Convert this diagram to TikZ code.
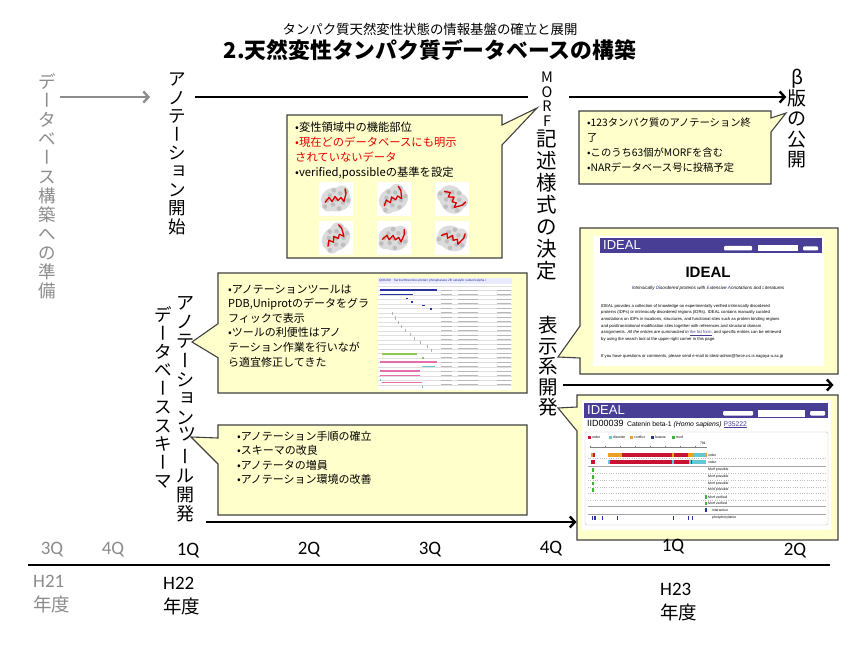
\documentclass[tikz,border=0pt]{standalone}
\usepackage{fontspec}
\setmainfont{Noto Sans CJK JP}
\newfontfamily\qfont{Carlito}
\newfontfamily\webfont{Liberation Sans}
\usepackage{xcolor}
\usepackage{tikz}
\usetikzlibrary{positioning}
\usetikzlibrary{arrows.meta}
\usetikzlibrary{shapes.callouts}

\definecolor{notefill}{RGB}{255,255,204}
\definecolor{noteline}{RGB}{64,64,64}
\definecolor{prepgray}{RGB}{140,140,140}
\definecolor{annored}{RGB}{230,0,0}
\definecolor{idealpurple}{RGB}{72,62,150}
\definecolor{orderred}{RGB}{200,20,50}
\definecolor{disordercyan}{RGB}{100,200,210}
\definecolor{conflictorange}{RGB}{235,160,40}
\definecolor{featureblue}{RGB}{40,50,160}
\definecolor{morfgreen}{RGB}{60,180,60}
\definecolor{toolpink}{RGB}{230,110,170}
\definecolor{toolgreen}{RGB}{140,200,80}

% long vowel mark and small kana in vertical writing
\newcommand{\vbar}{\rotatebox[origin=c]{-90}{\makebox[1em]{\rule[-0.12em]{0pt}{1em}ー}}}
\newcommand{\vsmall}[1]{\raisebox{0.16em}{\hspace{0.12em}#1\hspace{-0.12em}}}

\tikzset{
  note/.style={rectangle callout, draw=noteline, fill=notefill, line width=1.1pt, inner sep=0pt},
  notetext/.style={align=left, inner sep=0pt, anchor=north west},
  vlabel/.style={align=center, inner sep=0pt, anchor=north},
  tline/.style={line width=2.4pt, -{Straight Barb[length=5pt,width=11pt]}},
  qlabel/.style={inner sep=0pt, font=\qfont\fontsize{19}{20}\selectfont},
  ylabel/.style={inner sep=0pt, anchor=north west, align=left, font=\qfont\fontsize{19}{24}\selectfont},
  webtiny/.style={inner sep=0pt, anchor=west, font=\webfont\fontsize{3.4}{4}\selectfont},
}

\begin{document}
\begin{tikzpicture}[x=1pt, y=-1pt]
    \useasboundingbox (0,0) rectangle (860,647);
    \fill[white] (0,0) rectangle (860,647);

    % titles
    \node[inner sep=0pt, font=\fontsize{13.4}{14}\selectfont] (subtitle) at (430,29) {タンパク質天然変性状態の情報基盤の確立と展開};
    \node[inner sep=0pt, font=\bfseries\fontsize{21.8}{22}\selectfont, below=4pt of subtitle] (title) {2.天然変性タンパク質データベースの構築};

    % vertical milestones
    \node[vlabel, text=prepgray, font=\fontsize{17.5}{19}\selectfont] (prep) at (47,73) {デ\\\vbar\\タ\\ベ\\\vbar\\ス\\構\\築\\へ\\の\\準\\備};
    \node[vlabel, font=\fontsize{17.5}{18.4}\selectfont] (annostart) at (177,73) {ア\\ノ\\テ\\\vbar\\シ\\\vsmall{ョ}\\ン\\開\\始};
    \node[vlabel, font=\fontsize{14.5}{14.5}\selectfont] (morf) at (547,72) {M\\O\\R\\F};
    \node[vlabel, font=\fontsize{20.5}{22}\selectfont, below=3pt of morf] (morfdecide) {記\\述\\様\\式\\の\\決\\定};
    \node[vlabel, font=\fontsize{19}{20.5}\selectfont] (beta) at (797,69) {β\\版\\の\\公\\開};
    \node[vlabel, font=\fontsize{17.5}{18.5}\selectfont] (schema) at (163,306) {デ\\\vbar\\タ\\ベ\\\vbar\\ス\\ス\\キ\\\vbar\\マ};
    \node[vlabel, font=\fontsize{18}{19.2}\selectfont] (tooldev) at (185,296) {ア\\ノ\\テ\\\vbar\\シ\\\vsmall{ョ}\\ン\\\vsmall{ツ}\\\vbar\\ル\\開\\発};
    \node[vlabel, font=\fontsize{19.5}{20.6}\selectfont] (dispdev) at (548,316) {表\\示\\系\\開\\発};

    % callouts
    \node[note, minimum width=215pt, minimum height=143pt, callout absolute pointer={(537,108)}, callout pointer width=20pt] (funcbox) at (394.5,186.5) {};
    \node[note, minimum width=192pt, minimum height=73pt, callout absolute pointer={(786,113)}, callout pointer width=14pt] (statbox) at (675,147.5) {};
    \node[note, minimum width=258pt, minimum height=146pt, callout absolute pointer={(558,357)}, callout pointer width=32pt] (aboutbox) at (709,301) {};
    \node[note, minimum width=261pt, minimum height=145pt, callout absolute pointer={(558,408)}, callout pointer width=24pt] (entrybox) at (707.5,467.5) {};
    \node[note, minimum width=309pt, minimum height=120pt, callout absolute pointer={(192,342)}, callout pointer width=34pt] (toolbox) at (372.5,333) {};
    \node[note, minimum width=309pt, minimum height=90pt, callout absolute pointer={(191,437)}, callout pointer width=26pt] (stepbox) at (372.5,470) {};

    % timeline arrows
    \coordinate (toprow) at (0,97);
    \coordinate (disprow) at (0,385);
    \coordinate (botrow) at (0,522);
    \draw[tline, draw=prepgray] ([xshift=4pt]prep.east |- toprow) -- ([xshift=-18pt]annostart.west |- toprow);
    \draw[line width=2.4pt] ([xshift=9pt]annostart.east |- toprow) -- ([xshift=-13pt]morf.west |- toprow);
    \draw[tline] ([xshift=16pt]morf.east |- toprow) -- ([xshift=-1pt]beta.west |- toprow);
    \draw[tline] ([xshift=5pt]dispdev.east |- disprow) -- ([xshift=-5pt]aboutbox.east |- disprow);
    \draw[tline] ([xshift=12pt]tooldev.east |- botrow) -- (entrybox.west |- botrow);

    % callout texts
    \node[notetext, font=\fontsize{11.3}{15}\selectfont] (functext) at (295,121.5) {•変性領域中の機能部位\\\textcolor{annored}{•現在どのデータベースにも明示}\\\textcolor{annored}{されていないデータ}\\•verified,possibleの基準を設定};
    \node[notetext, font=\fontsize{10.3}{15}\selectfont] (stattext) at (587,117.5) {•123タンパク質のアノテーション終\\了\\•このうち63個がMORFを含む\\•NARデータベース号に投稿予定};
    \node[notetext, font=\fontsize{11}{14.6}\selectfont] (tooltext) at (228,284.5) {•アノテーションツールは\\PDB,Uniprotのデータをグラ\\フィックで表示\\•ツールの利便性はアノ\\テーション作業を行いなが\\ら適宜修正してきた};
    \node[notetext, font=\fontsize{11}{14.4}\selectfont] (steptext) at (237,431) {•アノテーション手順の確立\\•スキーマの改良\\•アノテータの増員\\•アノテーション環境の改善};

    % protein pictures
    \foreach \px/\py/\r in {336/199.5/0, 393.5/199.5/20, 452/199.5/-60, 336/238.5/30, 393.5/238.5/-10, 452/238.5/-30} {
      \fill[white] (\px-17,\py-17) rectangle (\px+17,\py+17);
      \begin{scope}[shift={(\px,\py)}, rotate=\r]
        \fill[gray!28] (0,0) circle [x radius=15, y radius=12];
        \fill[gray!28] (6,-7) circle (7);
        \fill[gray!28] (-8,6) circle (6);
        \foreach \dx/\dy in {-6/-4, 4/-6, 7/3, -3/5, 0/0, -9/1, 10/-8, -11/7, 3/9, 12/1, -2/-9}
          \fill[gray!50] (\dx,\dy) circle (2.3);
        \draw[red!85!black, line width=1.3pt, line join=round] (-11,3) -- (-7,-2) -- (-4,2) -- (-1,-3) -- (2,1) -- (5,-2) -- (8,2) -- (10,-6) -- (9,-11);
      \end{scope}
    }

    % annotation tool screenshot
    \fill[white] (378,278) rectangle (512,390);
    \fill[blue!8] (378,278) rectangle (512,284);
    \node[webtiny, text=featureblue, font=\webfont\fontsize{3.2}{3.5}\selectfont] (toolhead) at (379,281) {Q08209\quad Serine/threonine-protein phosphatase 2B catalytic subunit alpha i};
    \foreach \y in {286,290.5,...,388} \draw[gray!25, line width=0.2pt] (378,\y) -- (512,\y);
    \foreach \xa/\xb/\y/\c in {380/437/290/featureblue, 380/413/294.5/featureblue, 406/408/298.5/featureblue, 411/413/302/featureblue, 422/425/305.5/featureblue, 430/432/309/featureblue, 382/417/354/toolgreen, 422/424/358/toolgreen, 380/437/362/toolpink, 422/435/366.5/disordercyan, 380/420/371/toolpink, 380/420/375.5/toolpink, 380/381/380/disordercyan, 382/422/382.5/toolpink, 422/423/387/disordercyan}
      \fill[\c] (\xa,\y-0.9) rectangle (\xb,\y+0.9);
    \foreach \x/\y in {392/314, 395/318, 398/322, 401/326, 405/330, 410/334, 414/338, 420/342, 427/346, 431/350}
      \draw[gray!60, line width=0.3pt] (\x,\y-1.5) -- (\x,\y+1.5);
    \foreach \y in {290,294.5,...,386} {
      \draw[gray!55, line width=0.7pt] (441,\y) -- (452,\y);
      \draw[gray!55, line width=0.7pt] (458,\y) -- (478,\y);
      \draw[gray!55, line width=0.7pt] (497,\y) -- (511,\y);
    }

    % IDEAL top page
    \fill[white] (593,236) rectangle (824,366);
    \fill[idealpurple] (600,238) rectangle (822,253);
    \node[inner sep=0pt, anchor=west, text=white, font=\webfont\fontsize{13}{13}\selectfont] (aboutlogo) at (603,245.5) {IDEAL};
    \fill[white, rounded corners=1pt] (724,246) rectangle (752,250.5);
    \fill[white] (758,245) rectangle (798,251.5);
    \fill[white, rounded corners=1pt] (803,246.5) rectangle (818,250.5);
    \node[inner sep=0pt, font=\webfont\bfseries\fontsize{15}{15}\selectfont] (abouttitle) at (708,272) {IDEAL};
    \node[inner sep=0pt, font=\webfont\itshape\fontsize{4.6}{5}\selectfont] (aboutsub) at (708,288) {{\color{featureblue}I}ntrinsically {\color{featureblue}D}isordered proteins with {\color{featureblue}E}xtensive {\color{featureblue}A}nnotations and {\color{featureblue}L}iteratures};
    \node[notetext, font=\webfont\fontsize{4.2}{6.6}\selectfont] (abouttext) at (601,304) {IDEAL provides a collection of knowledge on experimentally verified intrinsically disordered\\proteins (IDPs) or intrinsically disordered regions (IDRs). IDEAL contains manually curated\\annotations on IDPs in locations, structures, and functional sites such as protein binding regions\\and posttranslational modification sites together with references and structural domain\\assignments. \textit{All the entries are summarized in} {\color{idealpurple}\underline{the list form}}, and specific entries can be retrieved\\by using the search tool at the upper-right corner in this page.};
    \node[webtiny, font=\webfont\fontsize{4.2}{5}\selectfont] (aboutmail) at (601,356) {If you have questions or comments, please send e-mail to ideal-admin@force.cs.is.nagoya-u.ac.jp};

    % IDEAL entry page
    \fill[white] (582,400) rectangle (831,530);
    \fill[idealpurple] (584,403) rectangle (828,418);
    \node[inner sep=0pt, anchor=west, text=white, font=\webfont\fontsize{13}{13}\selectfont] (entrylogo) at (587,410.5) {IDEAL};
    \fill[white, rounded corners=1pt] (723,411) rectangle (753,415.5);
    \fill[white] (758,409.5) rectangle (805,416.5);
    \fill[white, rounded corners=1pt] (810,411) rectangle (825,415.5);
    \node[inner sep=0pt, anchor=west, font=\webfont\fontsize{6.8}{7}\selectfont] (entryid) at (587,424) {{\fontsize{9}{9}\selectfont IID00039}\enspace Catenin beta-1 \textit{(Homo sapiens)} \textcolor{idealpurple}{\underline{P35222}}};
    \draw[gray!50, line width=0.4pt, rounded corners=2pt] (585,432) rectangle (828,525);
    \foreach \x/\c/\lab in {588/orderred/order, 609/disordercyan/disorder, 630/conflictorange/conflict, 651/featureblue/feature, 672/morfgreen/morf} {
      \fill[\c] (\x,435.5) rectangle (\x+3,439);
      \node[webtiny] at (\x+4,437.2) {\lab};
    }
    \draw[gray, line width=0.3pt] (590,447) -- (707,447);
    \foreach \x in {590,605,...,705} \draw[gray, line width=0.3pt] (\x,445.5) -- (\x,447);
    \node[webtiny] (ruler) at (700,443) {781};
    \foreach \xa/\xb/\y/\c in {591/593/455/conflictorange, 593/595/455/orderred, 608/622/455/conflictorange, 622/672/455/orderred, 672/673.5/455/conflictorange, 673.5/688/455/orderred, 688/693/455/conflictorange, 693/706/455/disordercyan, 706/707/455/conflictorange, 591/595/462/orderred, 608/610/462/disordercyan, 610/672/462/orderred, 672/673.5/462/disordercyan, 673.5/689/462/orderred, 689/690.5/462/disordercyan, 690.5/692/462/orderred, 692/706/462/disordercyan}
      \fill[\c] (\xa,\y-1.8) rectangle (\xb,\y+1.8);
    \foreach \y/\lab in {455/order/disorder by at least rule, 462/order/disorder by majority rule, 470/Morf possible, 477/Morf possible, 483.5/Morf possible, 490/Morf possible, 497/Morf verified, 503.5/Morf verified}
      \node[webtiny] at (708,\y) {\lab};
    \node[webtiny] (interaction) at (712,510) {interaction};
    \node[webtiny] (phospho) at (712,518) {phosphorylation};
    \foreach \y in {458.5,473.5,480,487,493.5,500} \draw[gray!50, dotted, line width=0.3pt] (588,\y) -- (826,\y);
    \foreach \y in {466.5,506.5,514} \draw[gray!70, line width=0.5pt] (588,\y) -- (826,\y);
    \foreach \x/\y in {592/470, 592/477, 592/483.5, 592/490, 705/497, 705/503.5} \fill[morfgreen] (\x,\y-1.6) rectangle (\x+1.5,\y+1.6);
    \fill[featureblue] (705,508.4) rectangle (706.5,511.6);
    \foreach \x in {592,593.5,595,602,617,673,688,692} \fill[featureblue] (\x,516.4) rectangle (\x+0.8,519.6);

    % time axis
    \coordinate (axisl) at (28,565);
    \coordinate (axisr) at (830,565);
    \draw[line width=2.4pt] (axisl) -- (axisr);
    \foreach \x/\y/\q/\c [count=\i] in {52/550/3Q/prepgray, 113/550/4Q/prepgray, 188/551/1Q/black, 309/550/2Q/black, 430/550/3Q/black, 551/549/4Q/black, 673/547/1Q/black, 795/551/2Q/black}
      \node[qlabel, text=\c] (q\i) at (\x,\y) {\q};
    \node[ylabel, text=prepgray] (fy21) at (33,575) {H21\\{\normalfont\fontsize{18.5}{24}\selectfont 年度}};
    \node[ylabel] (fy22) at (163,577) {H22\\{\normalfont\fontsize{18.5}{24}\selectfont 年度}};
    \node[ylabel] (fy23) at (660,583) {H23\\{\normalfont\fontsize{18.5}{24}\selectfont 年度}};
\end{tikzpicture}
\end{document}
